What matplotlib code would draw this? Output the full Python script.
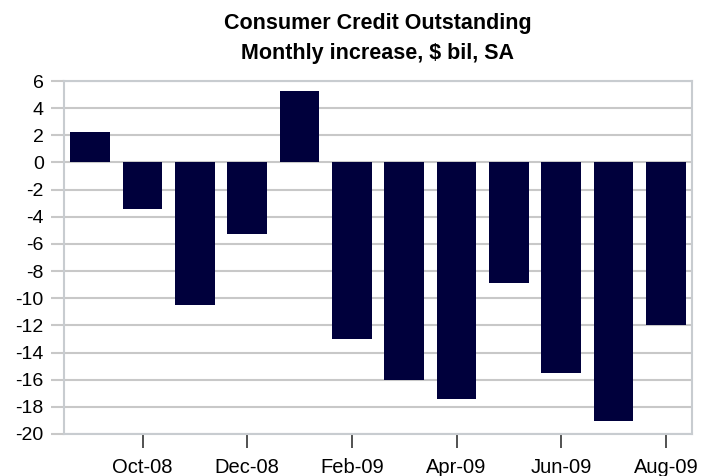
import matplotlib
matplotlib.use("Agg")
import matplotlib.pyplot as plt
import numpy as np

months = ["Sep-08", "Oct-08", "Nov-08", "Dec-08", "Jan-09", "Feb-09",
          "Mar-09", "Apr-09", "May-09", "Jun-09", "Jul-09", "Aug-09"]
values = [2.25, -3.45, -10.5, -5.3, 5.3, -13.0, -16.05, -17.45, -8.85, -15.5, -19.05, -12.0]
yticks = list(range(-20, 7, 2))
shown_labels = ["Oct-08", "Dec-08", "Feb-09", "Apr-09", "Jun-09", "Aug-09"]

plt.rcParams['font.family'] = ['Liberation Sans', 'DejaVu Sans']

fig = plt.figure(figsize=(7.01, 4.76), dpi=100)
ax = fig.add_axes([64/701, 1-434/476, (692-64)/701, (434-81)/476])

x = np.arange(len(months))
ax.bar(x, values, width=0.76, color="#00003c", zorder=3)

ax.set_xlim(-0.5, len(months)-0.5)
ax.set_ylim(-20, 6)
ax.set_yticks(yticks)
ax.set_yticklabels([str(v) for v in yticks], fontsize=14)
ax.yaxis.grid(True, color="#c8c8c8", linewidth=1.5, zorder=0)
ax.tick_params(axis='y', length=9.5, width=1.5, color="#c8c8c8", pad=5)

tick_pos = [months.index(m) for m in shown_labels]
ax.set_xticks(tick_pos)
ax.set_xticklabels(shown_labels, fontsize=14.5)
ax.tick_params(axis='x', length=10, width=1.2, color="#333333", pad=7)

for s in ax.spines.values():
    s.set_color("#c8ccd0")
    s.set_linewidth(1.5)

fig.text(378/701, 1-23/476, "Consumer Credit Outstanding", ha="center", va="center",
         fontsize=15.5, fontweight="bold")
fig.text(378/701, 1-54/476, "Monthly increase, $ bil, SA", ha="center", va="center",
         fontsize=15.5, fontweight="bold")

fig.savefig("out.png", dpi=100)
